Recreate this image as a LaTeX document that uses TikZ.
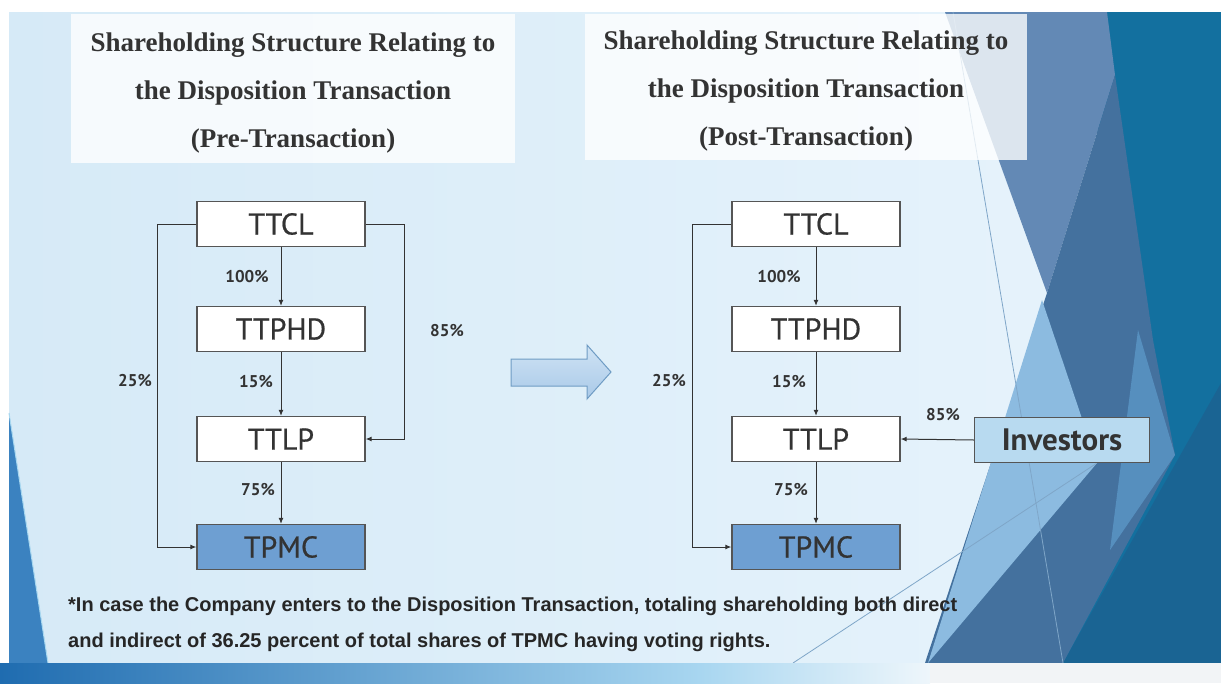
\documentclass[tikz,border=0pt]{standalone}
\usepackage{fontspec}
\setmainfont{Liberation Serif}
\newfontfamily\boxfont{PT Sans}[FakeBold=0.6]
\newfontfamily\boxfontb{PT Sans Bold}
\newfontfamily\notefont{Liberation Sans}
\usetikzlibrary{arrows.meta}
\definecolor{bgL}{HTML}{D6EAF7}
\definecolor{bgR}{HTML}{E8F4FC}
\definecolor{teal}{HTML}{13709F}
\definecolor{slate}{HTML}{44719E}
\definecolor{midblue}{HTML}{6389B5}
\definecolor{lightblue}{HTML}{8CBBE0}
\definecolor{medblue}{HTML}{5E9CCD}
\definecolor{darkteal}{HTML}{1A6493}
\definecolor{thinline}{HTML}{7FA6C8}
\definecolor{boxline}{HTML}{555555}
\definecolor{txt}{HTML}{333333}
\definecolor{tpmc}{HTML}{6E9FD2}
\definecolor{inv}{HTML}{B8DAF0}
\definecolor{arrowfillA}{HTML}{CFE3F4}
\definecolor{arrowfillB}{HTML}{A9C9E8}
\definecolor{arrowline}{HTML}{6F9CC4}
\definecolor{lefttri}{HTML}{3B82C0}
\definecolor{lefttriedge}{HTML}{A8D8F0}
\definecolor{bandA}{HTML}{1F6CB0}
\definecolor{bandB}{HTML}{A8D6F0}
\definecolor{bandC}{HTML}{EEF6FB}
\definecolor{bandD}{HTML}{F2F4F6}
\tikzset{
  entity/.style={draw=boxline, line width=1.3pt, fill=white, minimum width=168pt, minimum height=45pt, inner sep=0pt, text=txt, font=\boxfont\fontsize{30}{32}\selectfont},
  pct/.style={text=txt, inner sep=0pt, font=\boxfontb\fontsize{17}{19}\selectfont},
  conn/.style={draw=black!80, line width=1pt, -{Latex[length=6pt,width=5pt]}},
  titlebox/.style={fill=white, fill opacity=0.78, draw=none},
  titletext/.style={align=center, text=txt, font=\bfseries\fontsize{27}{48}\selectfont},
  note/.style={anchor=west, text=black!85, inner sep=0pt, font=\notefont\bfseries\fontsize{20}{22}\selectfont}
}
\begin{document}
\begin{tikzpicture}[x=1pt,y=-1pt]
\useasboundingbox (0,0) rectangle (1221,683);
% page
\fill[white] (0,0) rectangle (1221,683);
\shade[left color=bgL, right color=bgR] (9,12) rectangle (1221,663);
% right decoration
\fill[teal] (1105,12) -- (1221,12) -- (1221,663) -- (1063,663) -- cycle;
\fill[darkteal] (1221,383) -- (1221,663) -- (1063,663) -- cycle;
\fill[midblue] (945,12) -- (1107,12) -- (1115,75) -- (1047,293) -- cycle;
\fill[slate] (1115,75) -- (1153,340) -- (1175,455) -- (1063,663) -- (925,663) -- (1047,293) -- cycle;
\fill[medblue, opacity=0.7] (1138,330) -- (1175,455) -- (1110,550) -- cycle;
\fill[lightblue] (1042,300) -- (1097,463) -- (928,663) -- cycle;
\draw[thinline, line width=0.8pt] (953,12) -- (1063,663);
\draw[thinline, line width=0.8pt] (793,663) -- (1097,463);
% left triangle
\fill[lefttri] (9,413) -- (48,663) -- (9,663) -- cycle;
\draw[lefttriedge, line width=1pt] (9,413) -- (48,663);
% bottom band
\shade[left color=bandA, right color=bandB] (0,663) rectangle (700,683);
\shade[left color=bandB, right color=bandC] (700,663) rectangle (930,683);
\fill[bandD] (930,663) rectangle (1221,683);
% title boxes
\fill[titlebox] (71,14) rectangle (515,163);
\fill[titlebox] (585,14) rectangle (1027,160);
\node[titletext] (t1) at (293,93) {Shareholding Structure Relating to\\the Disposition Transaction\\(Pre-Transaction)};
\node[titletext] (t2) at (806,91) {Shareholding Structure Relating to\\the Disposition Transaction\\(Post-Transaction)};
% middle arrow
\shade[top color=arrowfillA, bottom color=arrowfillB, draw=arrowline, line width=1pt]
  (511,359) -- (587,359) -- (587,345) -- (611,372) -- (587,399) -- (587,386) -- (511,386) -- cycle;
% left diagram
\node[entity] (L1) at (281,224) {TTCL};
\node[entity] (L2) at (281,329) {TTPHD};
\node[entity] (L3) at (281,439) {TTLP};
\node[entity, fill=tpmc] (L4) at (281,547) {TPMC};
\draw[conn] (L1.south) -- (L2.north);
\draw[conn] (L2.south) -- (L3.north);
\draw[conn] (L3.south) -- (L4.north);
\draw[conn] (L1.west) -- ++(-39,0) |- (L4.west);
\draw[conn] (L1.east) -- ++(39,0) |- (L3.east);
\node[pct] (p1) at (247,277) {100\%};
\node[pct] (p2) at (256,382) {15\%};
\node[pct] (p3) at (258,490) {75\%};
\node[pct] (p4) at (135,381) {25\%};
\node[pct] (p5) at (447,331) {85\%};
% right diagram
\node[entity] (R1) at (816,224) {TTCL};
\node[entity] (R2) at (816,329) {TTPHD};
\node[entity] (R3) at (816,439) {TTLP};
\node[entity, fill=tpmc] (R4) at (816,547) {TPMC};
\node[entity, fill=inv, minimum width=175pt, font=\boxfontb\fontsize{31}{33}\selectfont] (INV) at (1062,440) {Investors};
\draw[conn] (R1.south) -- (R2.north);
\draw[conn] (R2.south) -- (R3.north);
\draw[conn] (R3.south) -- (R4.north);
\draw[conn] (R1.west) -- ++(-39,0) |- (R4.west);
\draw[conn] (INV.west) -- (R3.east);
\node[pct] (q1) at (779,277) {100\%};
\node[pct] (q2) at (789,382) {15\%};
\node[pct] (q3) at (791,490) {75\%};
\node[pct] (q4) at (669,381) {25\%};
\node[pct] (q5) at (943,415) {85\%};
% footnote
\node[note] (n1) at (68,606) {*In case the Company enters to the Disposition Transaction, totaling shareholding both direct};
\node[note] (n2) at (68,642) {and indirect of 36.25 percent of total shares of TPMC having voting rights.};
\end{tikzpicture}
\end{document}
